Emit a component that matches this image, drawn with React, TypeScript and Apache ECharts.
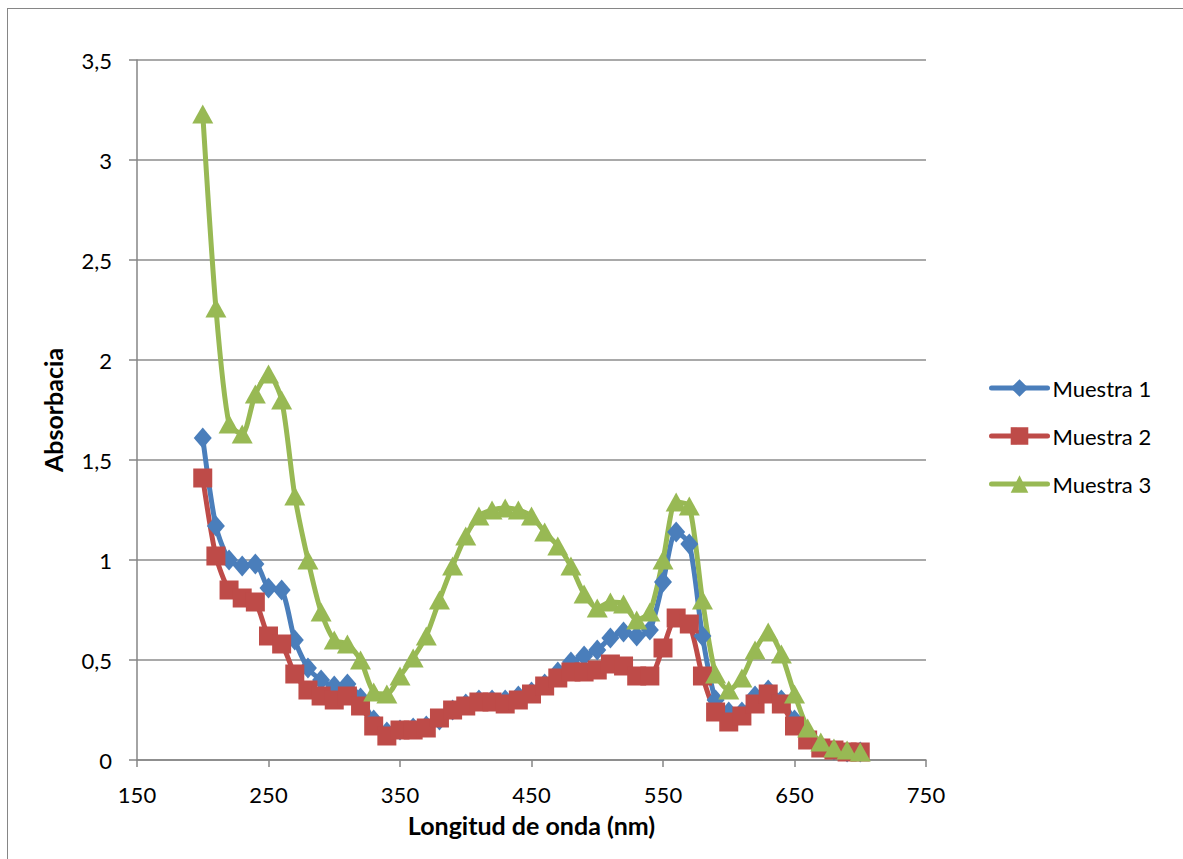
import React, { useEffect, useRef } from "react";
import * as echarts from "echarts";

const wavelengths = [
  200, 210, 220, 230, 240, 250, 260, 270, 280, 290, 300, 310, 320, 330, 340, 350, 360,
  370, 380, 390, 400, 410, 420, 430, 440, 450, 460, 470, 480, 490, 500, 510, 520, 530,
  540, 550, 560, 570, 580, 590, 600, 610, 620, 630, 640, 650, 660, 670, 680, 690, 700,
];

const muestra1 = [
  1.61, 1.17, 1.0, 0.97, 0.98, 0.86, 0.85, 0.6, 0.46, 0.4, 0.37, 0.38, 0.31, 0.2, 0.14,
  0.15, 0.16, 0.17, 0.2, 0.25, 0.28, 0.3, 0.3, 0.3, 0.32, 0.34, 0.38, 0.44, 0.49, 0.52,
  0.55, 0.61, 0.64, 0.62, 0.65, 0.89, 1.14, 1.08, 0.62, 0.3, 0.24, 0.24, 0.32, 0.35, 0.3,
  0.2, 0.12, 0.07, 0.05, 0.04, 0.04,
];

const muestra2 = [
  1.41, 1.02, 0.85, 0.81, 0.79, 0.62, 0.58, 0.43, 0.35, 0.32, 0.3, 0.32, 0.27, 0.17, 0.12,
  0.15, 0.15, 0.16, 0.21, 0.25, 0.27, 0.29, 0.29, 0.28, 0.3, 0.33, 0.37, 0.41, 0.44, 0.44,
  0.45, 0.48, 0.47, 0.42, 0.42, 0.56, 0.71, 0.68, 0.42, 0.24, 0.19, 0.22, 0.28, 0.33, 0.28,
  0.17, 0.1, 0.06, 0.05, 0.04, 0.04,
];

const muestra3 = [
  3.23, 2.26, 1.68, 1.63, 1.83, 1.93, 1.8, 1.32, 1.0, 0.74, 0.6, 0.58, 0.5, 0.34, 0.33,
  0.42, 0.51, 0.62, 0.8, 0.97, 1.12, 1.22, 1.25, 1.26, 1.25, 1.22, 1.14, 1.07, 0.97, 0.83,
  0.76, 0.79, 0.78, 0.7, 0.74, 1.0, 1.29, 1.27, 0.8, 0.43, 0.35, 0.41, 0.55, 0.64, 0.53,
  0.33, 0.16, 0.09, 0.06, 0.05, 0.04,
];

const seriesNames = ["Muestra 1", "Muestra 2", "Muestra 3"];
const colors = ["#4A7EBB", "#BE4B48", "#98B954"];
const symbols = ["diamond", "rect", "triangle"];
const symbolSizes = [[18, 21], [19, 19], [21, 19]];

const xTitle = "Longitud de onda (nm)";
const yTitle = "Absorbacia";

const FONT = "Lato, 'Open Sans', sans-serif";

export default function App() {
  const ref = useRef<HTMLDivElement>(null);

  useEffect(() => {
    if (!ref.current) return;
    const chart = echarts.init(ref.current, null, { renderer: "svg" });
    const all = [muestra1, muestra2, muestra3];
    chart.setOption({
      animation: false,
      backgroundColor: "#ffffff",
      textStyle: { fontFamily: FONT },
      grid: { left: 129, top: 51, width: 789, height: 700, containLabel: false },
      legend: {
        orient: "vertical",
        left: 976,
        top: 363,
        padding: 5,
        itemWidth: 56,
        itemHeight: 22,
        itemGap: 26,
        lineStyle: { width: 5, cap: "round" },
        textStyle: { fontSize: 22, lineHeight: 18, color: "#000", fontFamily: FONT },
        data: seriesNames,
      },
      xAxis: {
        type: "value",
        min: 150,
        max: 750,
        interval: 100,
        name: xTitle,
        nameLocation: "middle",
        nameGap: 52,
        nameTextStyle: { fontSize: 25, fontWeight: "bold", color: "#000", fontFamily: FONT },
        axisLine: { show: true, lineStyle: { color: "#868686", width: 1.5 } },
        axisTick: { show: true, length: 7, lineStyle: { color: "#868686", width: 1.5 } },
        axisLabel: { fontSize: 22, color: "#000", margin: 23, fontFamily: FONT },
        splitLine: { show: false },
      },
      yAxis: {
        type: "value",
        min: 0,
        max: 3.5,
        interval: 0.5,
        name: yTitle,
        nameLocation: "middle",
        nameGap: 72,
        nameRotate: 90,
        nameTextStyle: { fontSize: 25, fontWeight: "bold", color: "#000", fontFamily: FONT },
        axisLine: { show: true, lineStyle: { color: "#868686", width: 1.5 } },
        axisTick: { show: true, length: 8, lineStyle: { color: "#868686", width: 1.5 } },
        axisLabel: {
          fontSize: 22,
          color: "#000",
          margin: 25,
          fontFamily: FONT,
          formatter: (v: number) => String(v).replace(".", ","),
        },
        splitLine: { show: true, lineStyle: { color: "#8c8c8c", width: 1.5 } },
      },
      series: seriesNames.map((name, i) => ({
        name,
        type: "line",
        data: wavelengths.map((w, j) => [w, all[i][j]]),
        smooth: 0.25,
        symbol: symbols[i],
        symbolSize: symbolSizes[i],
        showAllSymbol: true,
        color: colors[i],
        lineStyle: { width: 5, color: colors[i], cap: "round", join: "round" },
        itemStyle: { color: colors[i] },
      })),
    });
    return () => chart.dispose();
  }, []);

  return (
    <div
      style={{
        position: "absolute",
        left: 7,
        top: 8,
        width: 1176,
        height: 851,
        borderLeft: "1px solid #868686",
        borderTop: "1px solid #868686",
        boxSizing: "border-box",
        background: "#fff",
      }}
    >
      <div ref={ref} style={{ width: 1175, height: 850 }} />
    </div>
  );
}
